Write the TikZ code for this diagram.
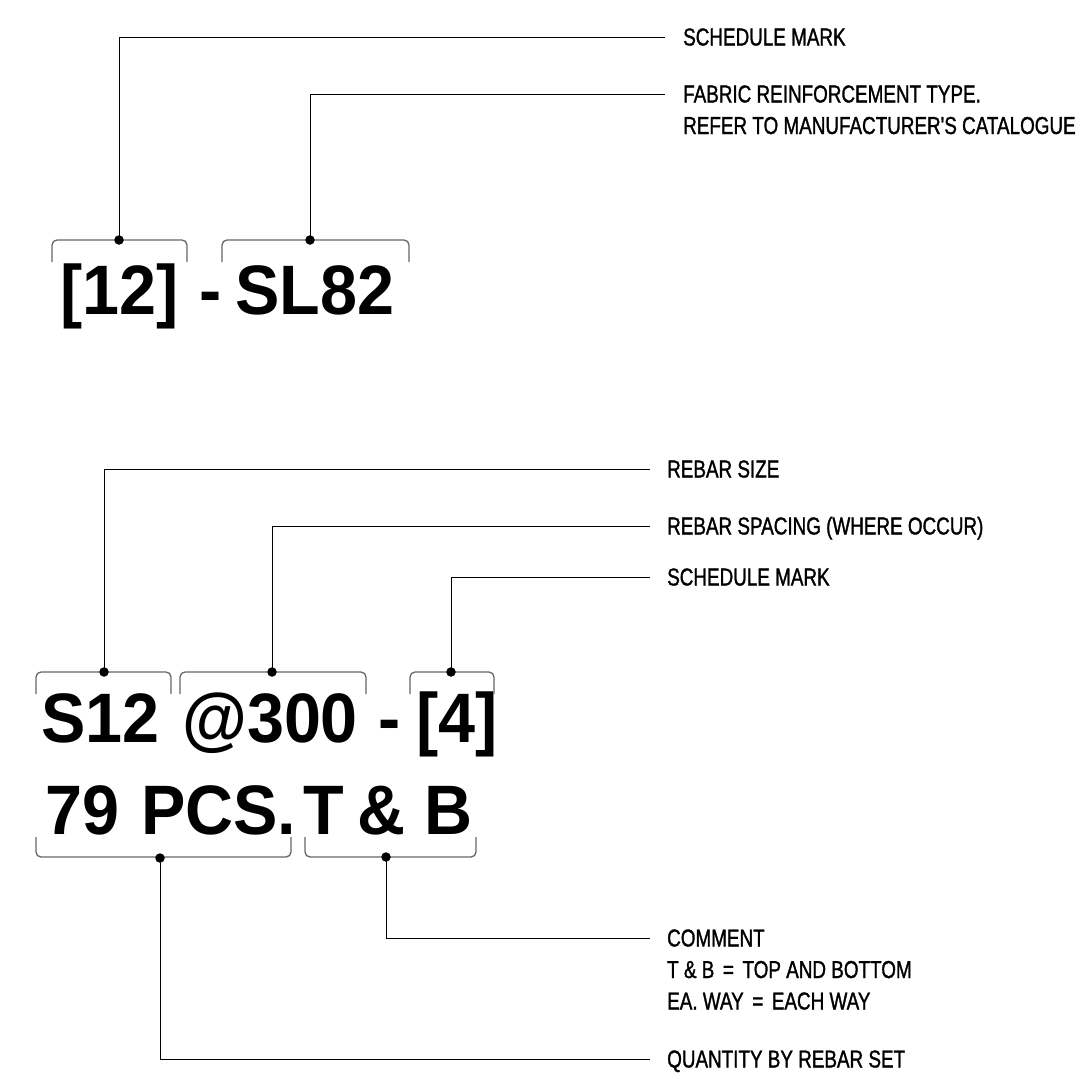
\documentclass[tikz,border=0pt]{standalone}
\usepackage{fontspec}
\setmainfont{Liberation Sans}
\newfontfamily\labelfont[FakeStretch=0.77,FakeBold=1.2]{Liberation Sans}
\newfontfamily\bigfont[FakeStretch=0.95]{Liberation Sans Bold}
\begin{document}
\begin{tikzpicture}[x=1pt,y=-1pt,
  big/.style={anchor=base west,inner sep=0pt,font=\bigfont\fontsize{70}{84}\selectfont},
  lbl/.style={anchor=base west,inner sep=0pt,font=\labelfont\fontsize{24.5}{31.5}\selectfont},
  brk/.style={draw=black!60,line width=1.3pt,rounded corners=5pt},
  lead/.style={draw=black,line width=0.8pt},
  dot/.style={circle,fill=black,inner sep=0pt,minimum size=9.5pt}]
\useasboundingbox (0,0) rectangle (1080,1079);
% ---------- top ----------
\node[big] (t12) at (60,314) {[12]};
\node[big] (tdash) at (199,314) {-};
\node[big] (tsl) at (235,314) {SL82};
\draw[brk] (52,262) |- (187,240) -- (187,262);
\draw[brk] (222,262) |- (409,240) -- (409,262);
\node[dot] (d1) at (119,240) {};
\node[dot] (d2) at (310,240) {};
\coordinate (e1) at (665,37);
\coordinate (e2) at (665,94);
\draw[lead] (d1.center) |- (e1);
\draw[lead] (d2.center) |- (e2);
\node[lbl] (l1) at (683,45.5) {SCHEDULE MARK};
\node[lbl] (l2) at (683,102.5) {\begin{tabular}[t]{@{}l@{}}FABRIC REINFORCEMENT TYPE.\\REFER TO MANUFACTURER'S CATALOGUE\end{tabular}};
% ---------- bottom ----------
\node[big] (s12) at (41,742) {S12};
\node[big] (at300) at (182,742) {@300};
\node[big] (bdash) at (378,742) {-};
\node[big] (b4) at (416,742) {[4]};
\node[big] (n79) at (45,834) {79};
\node[big] (pcs) at (141,834) {PCS.};
\node[big] (tt) at (303,834) {T};
\node[big] (amp) at (357,834) {\&};
\node[big] (bb) at (424,834) {B};
\draw[brk] (36,694) |- (171,672) -- (171,694);
\draw[brk] (180,694) |- (366,672) -- (366,694);
\draw[brk] (410,694) |- (494,672) -- (494,694);
\draw[brk] (36,837) |- (291,857) -- (291,837);
\draw[brk] (305,837) |- (476,857) -- (476,837);
\node[dot] (d3) at (104,672) {};
\node[dot] (d4) at (272,672) {};
\node[dot] (d5) at (451,672) {};
\node[dot] (d6) at (160,858) {};
\node[dot] (d7) at (386,857) {};
\coordinate (e3) at (650,469);
\coordinate (e4) at (650,526);
\coordinate (e5) at (650,577);
\coordinate (e6) at (650,1059);
\coordinate (e7) at (650,938);
\draw[lead] (d3.center) |- (e3);
\draw[lead] (d4.center) |- (e4);
\draw[lead] (d5.center) |- (e5);
\draw[lead] (d6.center) |- (e6);
\draw[lead] (d7.center) |- (e7);
\node[lbl] (l3) at (667,477.5) {REBAR SIZE};
\node[lbl] (l4) at (667,534.5) {REBAR SPACING (WHERE OCCUR)};
\node[lbl] (l5) at (667,585.5) {SCHEDULE MARK};
\node[lbl] (l7) at (667,946.5) {\begin{tabular}[t]{@{}l@{}}COMMENT\\T \& B\hspace{0.35em}=\hspace{0.35em}TOP AND BOTTOM\\EA. WAY\hspace{0.35em}=\hspace{0.35em}EACH WAY\end{tabular}};
\node[lbl] (l6) at (667,1067.5) {QUANTITY BY REBAR SET};
\end{tikzpicture}
\end{document}
